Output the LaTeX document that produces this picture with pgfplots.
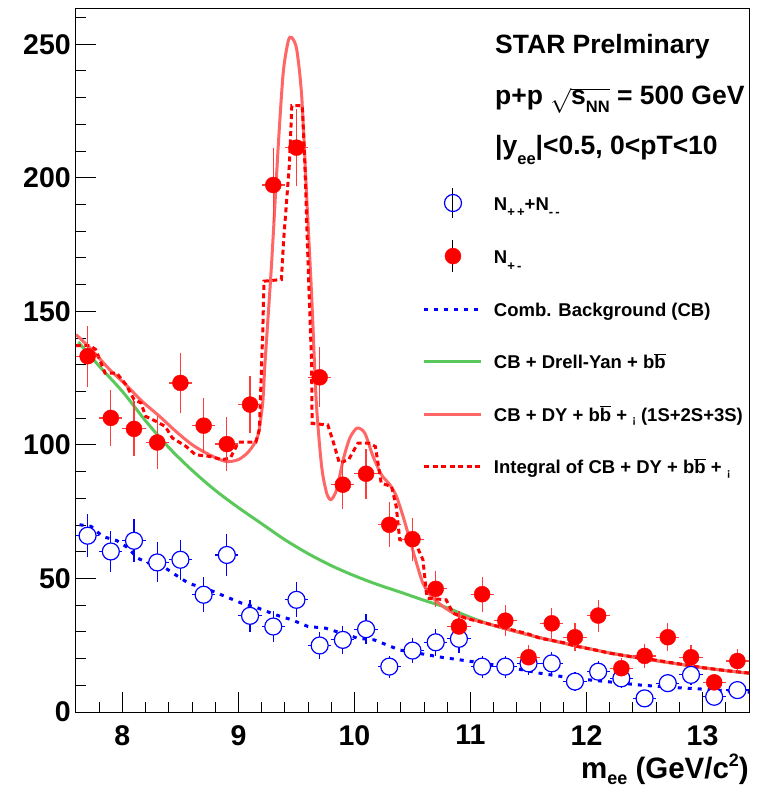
\documentclass[border=0pt]{standalone}
\usepackage{fontspec}
\setmainfont{Liberation Sans}
\usepackage{pgfplots}
\pgfplotsset{compat=1.18}
\usepackage{pgfplotstable}
\definecolor{salmon}{RGB}{255,102,102}
\definecolor{grn}{RGB}{90,200,90}
\definecolor{errred}{RGB}{255,60,60}
\newcommand{\sbx}[3]{\raisebox{-#2pt}{\fontsize{#1}{#1}\selectfont #3}}
\newcommand{\bbar}{b$\overline{\mbox{b}}$}
\newcommand{\ups}{\sbx{11}{2}{¡}}

\pgfplotstableread{
x y ex ey
7.7 133.2 0.1 11.5
7.9 110.1 0.1 10.5
8.1 106.0 0.1 10.3
8.3 100.9 0.1 10.0
8.5 123.2 0.1 11.1
8.7 107.2 0.1 10.4
8.9 100.3 0.1 10.0
9.1 115.1 0.1 10.7
9.3 197.3 0.1 14.0
9.5 211.3 0.1 14.5
9.7 125.3 0.1 11.2
9.9 85.1 0.1 9.2
10.1 89.2 0.1 9.4
10.3 70.1 0.1 8.4
10.5 64.7 0.1 8.0
10.7 46.1 0.1 6.8
10.9 32.0 0.1 5.7
11.1 44.1 0.1 6.6
11.3 34.2 0.1 5.8
11.5 20.5 0.1 4.5
11.7 33.2 0.1 5.8
11.9 28.0 0.1 5.3
12.1 36.1 0.1 6.0
12.3 16.4 0.1 4.0
12.5 21.0 0.1 4.6
12.7 28.0 0.1 5.3
12.9 20.5 0.1 4.5
13.1 11.1 0.1 3.3
13.3 19.1 0.1 4.4
}\redpts

\pgfplotstableread{
x y ex ey
7.7 66.0 0.1 8.1
7.9 60.1 0.1 7.8
8.1 64.1 0.1 8.0
8.3 56.0 0.1 7.5
8.5 57.0 0.1 7.5
8.7 43.9 0.1 6.6
8.9 58.8 0.1 7.7
9.1 36.0 0.1 6.0
9.3 32.0 0.1 5.7
9.5 42.0 0.1 6.5
9.7 24.9 0.1 5.0
9.9 27.0 0.1 5.2
10.1 31.0 0.1 5.6
10.3 17.0 0.1 4.1
10.5 23.0 0.1 4.8
10.7 26.1 0.1 5.1
10.9 27.4 0.1 5.2
11.1 17.0 0.1 4.1
11.3 17.0 0.1 4.1
11.5 18.2 0.1 4.3
11.7 18.2 0.1 4.3
11.9 11.4 0.1 3.4
12.1 15.1 0.1 3.9
12.3 12.6 0.1 3.5
12.5 5.1 0.1 2.3
12.7 10.8 0.1 3.3
12.9 13.9 0.1 3.7
13.1 5.7 0.1 2.4
13.3 8.2 0.1 2.9
}\bluepts

\pgfplotstableread{
x y
7.63 70.1
7.73 69.5
7.83 65.7
7.95 64.2
8.05 61.4
8.13 57.6
8.23 55.7
8.35 54.5
8.46 51.3
8.57 48.2
8.75 45.7
8.89 43.2
9.03 40.7
9.17 38.9
9.32 36.4
9.46 34.5
9.60 32.0
9.75 31.4
9.89 29.5
10.03 27.6
10.17 27.0
10.39 23.2
10.59 21.7
10.75 20.5
11.01 18.9
11.30 17.0
11.60 14.5
11.89 12.6
12.17 11.4
12.46 10.1
12.74 9.2
13.03 8.5
13.31 7.6
13.40 7.4
}\cbcurve

\pgfplotstableread{
x y
7.62 138.5
7.8 129.5
8.0 120
8.2 109
8.4 99
8.6 90.5
8.8 83
9.0 76.5
9.2 70.5
9.4 64.5
9.6 59.3
9.8 54.8
10.0 51
10.2 47.7
10.4 44.8
10.6 41.8
10.8 39.0
11.0 35.4
11.2 32.4
11.4 30.0
11.6 27.8
11.8 25.8
12.0 23.9
12.2 22.1
12.4 20.6
12.6 19.2
12.8 17.9
13.0 16.6
13.2 15.5
13.4 14.5
}\dycurve

\pgfplotstableread{
x y
7.60 141.3
7.72 136.3
7.89 128.2
8.03 122.5
8.17 116.3
8.32 110.7
8.46 105.1
8.60 100.1
8.75 96.3
8.89 93.8
9.00 94.5
9.09 97.6
9.166 103.2
9.209 115.7
9.229 130.7
9.286 168.2
9.343 211.9
9.386 239.4
9.429 251.2
9.459 252.5
9.502 248.1
9.545 230.6
9.588 193.1
9.631 155.7
9.671 116
9.717 91.9
9.760 82.0
9.797 79.5
9.846 83.2
9.903 94.5
9.960 102.6
10.023 106.3
10.089 104.4
10.16 95.7
10.233 88.8
10.305 85.1
10.362 80.7
10.419 73.2
10.477 64.5
10.535 55.7
10.59 48.2
10.664 43.2
10.764 39.5
10.879 36.4
11.022 34.6
11.2 32.4
11.4 30.0
11.6 27.8
11.8 25.8
12.0 23.9
12.2 22.1
12.4 20.6
12.6 19.2
12.8 17.9
13.0 16.6
13.2 15.5
13.4 14.5
}\upscurve

\pgfplotstableread{
x y
7.60 137.2
7.72 137.2
7.77 135.7
7.85 126.9
7.95 126.9
8.03 122.6
8.10 117.0
8.16 115.7
8.20 110.7
8.29 108.8
8.37 106.9
8.43 102.6
8.55 99.4
8.63 96.3
8.75 95.7
8.86 94.5
8.93 95.1
9.00 101.0
9.15 101.0
9.18 105.7
9.21 143
9.22 161.3
9.37 161.9
9.39 177
9.44 205.6
9.46 227
9.55 227
9.57 208
9.60 168
9.63 131
9.635 108
9.77 107.5
9.82 100.7
9.87 93.2
9.95 94.5
10.03 100.7
10.12 100.7
10.18 99.4
10.23 85.7
10.32 84.4
10.36 76.9
10.39 64.5
10.52 63.8
10.59 57.0
10.62 44.5
10.63 42.6
10.79 42.0
10.85 37.0
10.96 35.1
11.08 33.8
11.3 31.4
11.5 29.2
11.6 27.6
11.8 26.0
11.9 24.7
12.1 23.0
12.2 22.0
12.4 20.6
12.5 20.1
12.7 18.7
12.8 18.0
13.0 16.6
13.2 15.5
13.4 14.6
}\intcurve

\begin{document}
\begin{tikzpicture}
\path[use as bounding box] (-76pt,-75pt) rectangle (682pt,712pt);
\begin{axis}[
  at={(0pt,0pt)}, anchor=south west,
  scale only axis, width=673pt, height=703pt,
  xmin=7.6, xmax=13.4, ymin=0, ymax=263.2,
  axis line style={line width=1pt, black},
  tick pos=left, tick align=inside,
  xtick={8,9,10,11,12,13}, ytick={0,50,100,150,200,250},
  minor xtick={7.8,8.2,8.4,8.6,8.8,9.2,9.4,9.6,9.8,10.2,10.4,10.6,10.8,11.2,11.4,11.6,11.8,12.2,12.4,12.6,12.8,13.2},
  minor ytick={10,20,30,40,60,70,80,90,110,120,130,140,160,170,180,190,210,220,230,240,260},
  major tick length=20pt, minor tick length=10pt,
  every tick/.style={black, line width=1pt},
  /pgf/number format/assume math mode=true,
  tick label style={font=\bfseries\fontsize{28.5}{30}\selectfont, inner sep=0pt},
  yticklabel style={anchor=east, xshift=-5pt},
  xticklabel style={anchor=north, yshift=-13pt},
  xlabel={m\sbx{18}{6}{ee} (GeV/c\raisebox{11.5pt}{\fontsize{18}{18}\selectfont 2})},
  xlabel style={at={(axis description cs:1,-0.0939)}, anchor=base east, inner sep=0pt,
    font=\bfseries\fontsize{29.5}{31}\selectfont},
  legend style={
    at={(axis description cs:0.5156,0.7468)}, anchor=north west,
    draw=none, fill=none, inner sep=0pt, outer sep=0pt,
    row sep=20.6pt, column sep=11pt,
    nodes={inner sep=0pt, text height=23pt, text depth=9pt, font=\bfseries\fontsize{18.5}{20}\selectfont},
  },
  legend cell align=left,
]
\addlegendimage{legend image code/.code={\draw[black,line width=1pt] (28.5pt,-15pt) -- (28.5pt,15pt); \draw[blue,line width=1.2pt] (28.5pt,0pt) circle (8.5pt);}}
\addlegendentry{N\sbx{13}{7}{+\,+}+N\sbx{13}{7}{-\,-}}
\addlegendimage{legend image code/.code={\draw[black,line width=1pt] (28.5pt,-16pt) -- (28.5pt,16pt); \fill[red] (28.5pt,0pt) circle (8pt);}}
\addlegendentry{N\sbx{13}{7}{+\,-}}
\addlegendimage{legend image code/.code={\draw[blue,line width=3pt,dash pattern=on 4pt off 6pt] (0pt,0pt) -- (57pt,0pt);}}
\addlegendentry{Comb. Background (CB)}
\addlegendimage{legend image code/.code={\draw[grn,line width=3pt] (0pt,0pt) -- (57pt,0pt);}}
\addlegendentry{CB + Drell-Yan + \bbar}
\addlegendimage{legend image code/.code={\draw[salmon,line width=3pt] (0pt,0pt) -- (57pt,0pt);}}
\addlegendentry{CB + DY + \bbar\ + \ups\ (1S+2S+3S)}
\addlegendimage{legend image code/.code={\draw[red,line width=3pt,dash pattern=on 5pt off 3.5pt] (0pt,0pt) -- (57pt,0pt);}}
\addlegendentry{Integral of CB + DY + \bbar\ + \ups}

% blue points (same-sign)
\addplot[forget plot, only marks, mark=*, mark size=8.5pt,
  mark options={draw=blue, fill=white, line width=1.2pt},
  error bars/.cd, x dir=both, x explicit, y dir=both, y explicit,
  error mark=none, error bar style={blue, line width=1.2pt}]
  table[x=x, y=y, x error=ex, y error=ey] {\bluepts};

\addplot[forget plot, grn, line width=3pt, smooth] table[x=x,y=y] {\dycurve};
\addplot[forget plot, salmon, line width=3pt, smooth, tension=0.45] table[x=x,y=y] {\upscurve};
\addplot[forget plot, red, line width=3pt, dash pattern=on 5pt off 3.5pt] table[x=x,y=y] {\intcurve};
\addplot[forget plot, blue, line width=3pt, dash pattern=on 4pt off 6pt] table[x=x,y=y] {\cbcurve};

% red points (opposite-sign)
\addplot[forget plot, only marks, mark=*, mark size=8pt,
  mark options={draw=red, fill=red},
  error bars/.cd, x dir=both, x explicit, y dir=both, y explicit,
  error mark=none, error bar style={errred, line width=1.2pt}]
  table[x=x, y=y, x error=ex, y error=ey] {\redpts};

\node[anchor=base west, font=\bfseries\fontsize{26.5}{28}\selectfont, inner sep=0pt] at (axis description cs:0.6226,0.9374) {STAR Prelminary};
\node[anchor=base west, font=\bfseries\fontsize{26.5}{28}\selectfont, inner sep=0pt] at (axis description cs:0.6226,0.8635) {p+p \ensuremath{\sqrt{\mbox{s\sbx{16.5}{8}{NN}}}} = 500 GeV};
\node[anchor=base west, font=\bfseries\fontsize{26.5}{28}\selectfont, inner sep=0pt] at (axis description cs:0.6226,0.7937) {|y\sbx{16.5}{10}{ee}|<0.5, 0<pT<10};
\end{axis}
\end{tikzpicture}
\end{document}
